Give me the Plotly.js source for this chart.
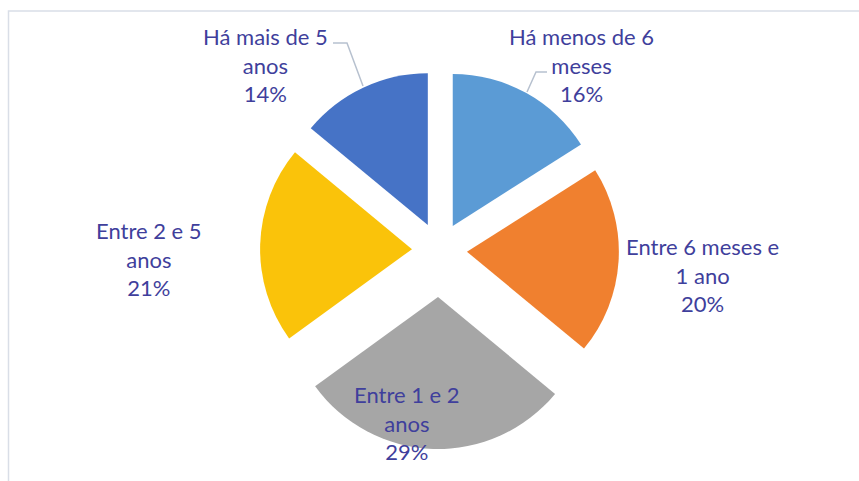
<!DOCTYPE html>
<html>
<head>
<meta charset="utf-8">
<script src="https://cdn.plot.ly/plotly-3.0.1.min.js"></script>
<style>html,body{margin:0;padding:0;background:#fff;}#chart{width:859px;height:481px;}</style>
</head>
<body>
<div id="chart"></div>
<script>
// ---- data ----
const categories = ["Há menos de 6 meses", "Entre 6 meses e 1 ano", "Entre 1 e 2 anos", "Entre 2 e 5 anos", "Há mais de 5 anos"];
const values = [16, 20, 29, 21, 14];
const labelLines = ["Há menos de 6<br>meses", "Entre 6 meses e<br>1 ano", "Entre 1 e 2<br>anos", "Entre 2 e 5<br>anos", "Há mais de 5<br>anos"];
const colors = ["#5B9BD5", "#F0802F", "#A6A6A6", "#FAC30A", "#4673C6"];
const pulls = [0.181, 0.181, 0.31, 0.181, 0.181];

// ---- layout helpers (pixel -> paper, margins are zero) ----
const W = 859, H = 481;
const px = x => x / W;
const py = y => 1 - y / H;

const total = values.reduce((a, b) => a + b, 0);
const pct = values.map(v => Math.round(v / total * 100) + "%");

// label centres (layout positions, in pixels)
const labelPos = [[581, 65], [702, 275], [407, 423], [149, 259], [265, 65]];
const labelColor = "#3F3F9C";

const annotations = categories.map((c, i) => ({
  xref: "paper", yref: "paper",
  x: px(labelPos[i][0]), y: py(labelPos[i][1]),
  xanchor: "center", yanchor: "middle",
  text: labelLines[i] + "<br>" + pct[i],
  showarrow: false,
  align: "center",
  font: {family: "Lato, 'Open Sans', sans-serif", size: 22, color: labelColor}
}));

const shapes = [
  // chart area frame
  {type: "rect", xref: "paper", yref: "paper", x0: px(8.5), y0: py(495), x1: px(880), y1: py(11),
   line: {color: "#D9DEE7", width: 1.5}, fillcolor: "rgba(0,0,0,0)", layer: "below"},
  // leader lines
  {type: "path", xref: "paper", yref: "paper",
   path: `M${px(333)},${py(43)} L${px(347)},${py(43)} L${px(363)},${py(86)}`,
   line: {color: "#B7C1CF", width: 1.5}},
  {type: "path", xref: "paper", yref: "paper",
   path: `M${px(547)},${py(72)} L${px(536)},${py(72)} L${px(527)},${py(92)}`,
   line: {color: "#B7C1CF", width: 1.5}}
];

const trace = {
  type: "pie",
  labels: categories,
  values: values,
  sort: false,
  direction: "clockwise",
  rotation: 0,
  pull: pulls,
  marker: {colors: colors, line: {width: 0}},
  textinfo: "none",
  hoverinfo: "label+percent",
  showlegend: false,
  domain: {x: [px(139.5), px(739.5)], y: [py(449), py(51)]}
};

const layout = {
  width: W, height: H,
  margin: {l: 0, r: 0, t: 0, b: 0},
  paper_bgcolor: "#ffffff",
  showlegend: false,
  annotations: annotations,
  shapes: shapes
};

Plotly.newPlot("chart", [trace], layout, {displayModeBar: false, staticPlot: true});
</script>
</body>
</html>
